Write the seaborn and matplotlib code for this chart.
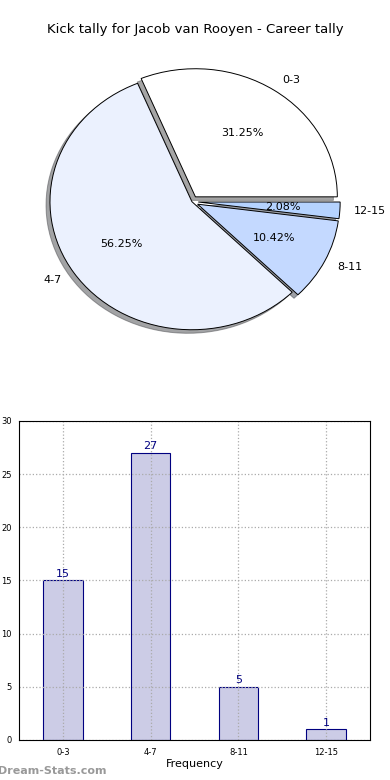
import numpy as np
import pandas as pd
import seaborn as sb
import matplotlib
matplotlib.use("Agg")
import matplotlib.pyplot as plt

# Datos
categorias = ["0-3", "4-7", "8-11", "12-15"]
valores = [15, 27, 5, 1]
colores_pie = ["#FFFFFF", "#EBF1FE", "#C4D9FF", "#B5D3FF"]
explode = [0.045, 0.0, 0.045, 0.045]

titulo = "Kick tally for Jacob van Rooyen - Career tally"

sb.set_style("white")
plt.rcParams["font.family"] = ["DejaVu Sans"]
plt.rcParams["text.color"] = "black"
plt.rcParams["axes.labelcolor"] = "black"
plt.rcParams["xtick.color"] = "black"
plt.rcParams["ytick.color"] = "black"

fig = plt.figure(figsize=(3.9, 7.8), dpi=100)

# ---- pie ----
ax1 = fig.add_axes([0.019, 0.528, 0.946, 0.427])
ax1.pie(valores, labels=categorias, colors=colores_pie, explode=explode,
        autopct="%.2f%%", shadow=True, startangle=0, counterclock=True,
        wedgeprops={"edgecolor": "black", "linewidth": 0.7},
        textprops={"fontsize": 8, "color": "black"})
ax1.set_aspect("auto")
ax1.set_xlim(-1.3, 1.3)
ax1.set_ylim(-1.3, 1.3)
ax1.axis("off")
fig.text(0.5, 0.962, titulo, ha="center", va="center", fontsize=9.5)

# ---- barras ----
ax2 = fig.add_axes([0.049, 0.0513, 0.9, 0.409])
df = pd.DataFrame({"cat": categorias, "val": valores})
sb.barplot(data=df, x="cat", y="val", color="#CCCCE6", saturation=1,
           edgecolor="navy", linewidth=0.8, width=0.45, ax=ax2, zorder=2)
ax2.bar_label(ax2.containers[0], color="navy", fontsize=8, padding=1)
ax2.set_xlim(-0.5, 3.5)
ax2.set_ylim(0, 30)
ax2.set_yticks(range(0, 31, 5))
ax2.set_axisbelow(False)
ax2.grid(True, color="#AAAAAA", linestyle=":", linewidth=0.9, zorder=2.2)
ax2.tick_params(labelsize=6, length=2, direction="out")
ax2.set_xlabel("Frequency", fontsize=8, labelpad=2)
ax2.set_ylabel("Scores in Tally", fontsize=8, labelpad=2)
for s in ax2.spines.values():
    s.set_color("black")
    s.set_linewidth(0.8)
    s.set_zorder(5)

fig.text(-0.005, 0.012, "Dream-Stats.com", fontsize=8, color="#999999",
         fontweight="bold", ha="left", va="center")

fig.savefig("out.png", dpi=100)
